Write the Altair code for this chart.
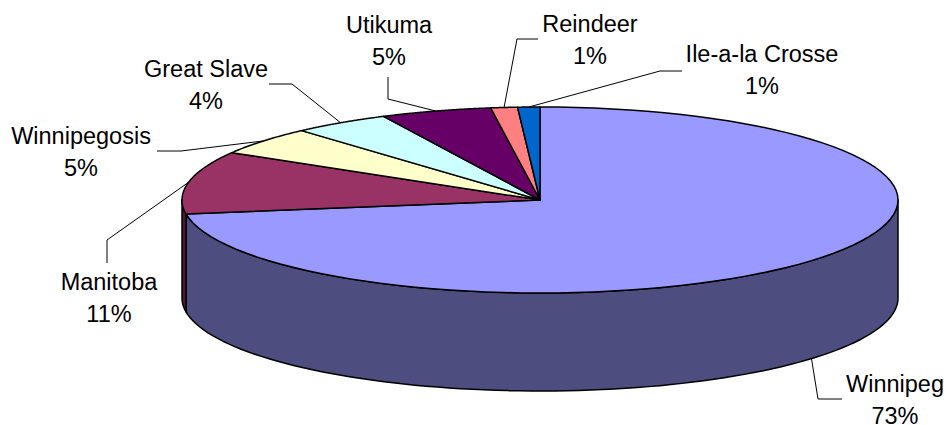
import altair as alt
import pandas as pd

# ---- data ----
lakes = ["Winnipeg", "Manitoba", "Winnipegosis", "Great Slave", "Utikuma", "Reindeer", "Ile-a-la Crosse"]
shares = [72.6, 10.9, 4.9, 4.4, 5.0, 1.2, 1.0]

# ---- styles ----
top_colors = ["#9999FF", "#993366", "#FFFFCC", "#CCFFFF", "#660066", "#FF8080", "#0066CC"]
side_colors = ["#4D4D80", "#4D1A33", "#80806A", "#6A8080", "#330033", "#804040", "#003366"]

# ---- label layout (page pixels) ----
label_x = [895, 109, 81, 206, 389, 590, 762]
label_y = [392, 290, 144, 77, 33, 32, 62]
elbow_x = [818, 107, 181, 292, 388, 517, 660]
elbow_y = [399, 240, 151, 84, 99, 39, 71]
end_x = [842, 107, 157, 269, 388, 538, 682]
end_y = [399, 263, 151, 84, 77, 39, 71]

# pie geometry: centre, radii of the top ellipse, depth of the side wall
CX, CY, A, B, D = 540, 200, 358, 93, 98
N = 90

df = pd.DataFrame({
    "idx": list(range(len(lakes))),
    "lake": lakes,
    "share": shares,
    "top_color": top_colors,
    "side_color": side_colors,
    "label_x": label_x,
    "label_y": label_y,
    "elbow_x": elbow_x,
    "elbow_y": elbow_y,
    "end_x": end_x,
    "end_y": end_y,
})

xs = alt.Scale(domain=[8, 944], nice=False, zero=False)
ys = alt.Scale(domain=[8, 425], reverse=True, nice=False, zero=False)

base = (
    alt.Chart(df)
    .transform_joinaggregate(total="sum(share)")
    .transform_window(cum="sum(share)", sort=[alt.SortField("idx")], frame=[None, 0])
    .transform_calculate(
        t0="2*PI*(datum.cum - datum.share)/datum.total",
        t1="2*PI*datum.cum/datum.total",
    )
    .transform_calculate(tm="(datum.t0 + datum.t1)/2")
)

enc = dict(
    x=alt.X("px:Q", scale=xs, axis=None),
    y=alt.Y("py:Q", scale=ys, axis=None),
    detail="lake:N",
    order="k:Q",
)

# front (side) walls
side = (
    base.transform_calculate(s0="max(datum.t0, PI/2)", s1="min(datum.t1, 3*PI/2)")
    .transform_filter("datum.s1 > datum.s0")
    .transform_calculate(k=f"sequence(0, {2 * N + 2})")
    .transform_flatten(["k"])
    .transform_calculate(
        th=f"datum.k <= {N} ? datum.s0 + (datum.s1 - datum.s0) * datum.k / {N} : datum.s1 - (datum.s1 - datum.s0) * (datum.k - {N + 1}) / {N}"
    )
    .transform_calculate(
        px=f"{CX} + {A} * sin(datum.th)",
        py=f"{CY} - {B} * cos(datum.th) + (datum.k <= {N} ? 0 : {D})",
    )
    .mark_line(interpolate="linear-closed", stroke="black", strokeWidth=1.5, strokeJoin="round")
    .encode(fill=alt.Fill("side_color:N", scale=None, legend=None), **enc)
)

# top faces
top = (
    base.transform_calculate(k=f"sequence(0, {N + 2})")
    .transform_flatten(["k"])
    .transform_calculate(th=f"datum.t0 + (datum.t1 - datum.t0) * (datum.k - 1) / {N}")
    .transform_calculate(
        px=f"datum.k == 0 ? {CX} : {CX} + {A} * sin(datum.th)",
        py=f"datum.k == 0 ? {CY} : {CY} - {B} * cos(datum.th)",
    )
    .mark_line(interpolate="linear-closed", stroke="black", strokeWidth=1.5, strokeJoin="round")
    .encode(fill=alt.Fill("top_color:N", scale=None, legend=None), **enc)
)

# leader lines
leader = (
    base.transform_calculate(
        ax=f"{CX} + {A} * sin(datum.tm)",
        ay=f"{CY} - {B} * cos(datum.tm) + ((datum.tm > PI/2 && datum.tm < 3*PI/2) ? {D} : 0)",
        k="sequence(0, 3)",
    )
    .transform_flatten(["k"])
    .transform_calculate(
        px="datum.k == 0 ? datum.ax : (datum.k == 1 ? datum.elbow_x : datum.end_x)",
        py="datum.k == 0 ? datum.ay : (datum.k == 1 ? datum.elbow_y : datum.end_y)",
    )
    .mark_line(stroke="black", strokeWidth=1)
    .encode(**enc)
)

labels = (
    base.transform_calculate(txt="datum.lake + '\\n' + format(datum.share / datum.total, '.0%')")
    .mark_text(
        font="Liberation Sans",
        fontSize=23.5,
        lineBreak="\n",
        lineHeight=32,
        align="center",
        baseline="alphabetic",
        color="black",
    )
    .encode(
        x=alt.X("label_x:Q", scale=xs, axis=None),
        y=alt.Y("label_y:Q", scale=ys, axis=None),
        text="txt:N",
    )
)

chart = (
    alt.layer(side, top, leader, labels)
    .properties(width=936, height=417, padding=0, autosize="none", background="white")
    .configure_view(stroke=None)
)

chart.save("out.html", embed_options={"renderer": "svg", "actions": False})
